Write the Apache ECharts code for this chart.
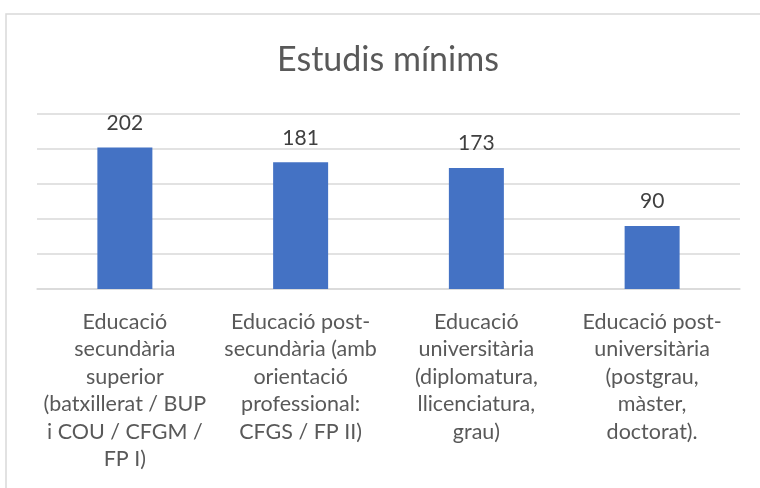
<!DOCTYPE html>
<html>
<head>
<meta charset="utf-8">
<script src="https://cdn.jsdelivr.net/npm/echarts@6/dist/echarts.min.js"></script>
<style>
  html, body { margin: 0; padding: 0; background: #fff; }
  #chart { width: 760px; height: 488px; }
</style>
</head>
<body>
<div id="chart"></div>
<script>
var titleText = 'Estudis mínims';
var categories = [
  'Educació\nsecundària\nsuperior\n(batxillerat / BUP\ni COU / CFGM /\nFP I)',
  'Educació post-\nsecundària (amb\norientació\nprofessional:\nCFGS / FP II)',
  'Educació\nuniversitària\n(diplomatura,\nllicenciatura,\ngrau)',
  'Educació post-\nuniversitària\n(postgrau,\nmàster,\ndoctorat).'
];
var values = [202, 181, 173, 90];
var yMin = 0, yMax = 250, yStep = 50;

var chart = echarts.init(document.getElementById('chart'));
var font = 'Lato, "Liberation Sans", sans-serif';

var option = {
  backgroundColor: '#fff',
  animation: false,
  title: {
    text: titleText,
    left: 383, textAlign: 'center',
    top: 38,
    textStyle: { fontFamily: font, fontSize: 34, fontWeight: 'normal', color: '#595959' }
  },
  // chart area border
  graphic: [{
    type: 'rect',
    shape: { x: 6, y: 14, width: 800, height: 520 },
    style: { fill: 'none', stroke: '#d9d9d9', lineWidth: 1.5 },
    silent: true
  }],
  grid: { left: 37, right: 20, top: 114, bottom: 199 },
  xAxis: {
    type: 'category',
    data: categories,
    axisLine: { lineStyle: { color: '#d9d9d9', width: 1.5 } },
    axisTick: { show: false },
    axisLabel: {
      interval: 0, margin: 19,
      fontFamily: font, fontSize: 21.5, lineHeight: 27.5,
      color: '#595959', align: 'center'
    }
  },
  yAxis: {
    type: 'value',
    min: yMin, max: yMax, interval: yStep,
    axisLabel: { show: false },
    axisLine: { show: false },
    axisTick: { show: false },
    splitLine: { lineStyle: { color: '#d9d9d9', width: 1.5 } }
  },
  series: [{
    type: 'bar',
    data: values,
    barWidth: 55,
    itemStyle: { color: '#4472C4' },
    label: {
      show: true, position: 'top', distance: 14,
      fontFamily: font, fontSize: 21, color: '#404040'
    }
  }]
};

chart.setOption(option);
</script>
</body>
</html>
